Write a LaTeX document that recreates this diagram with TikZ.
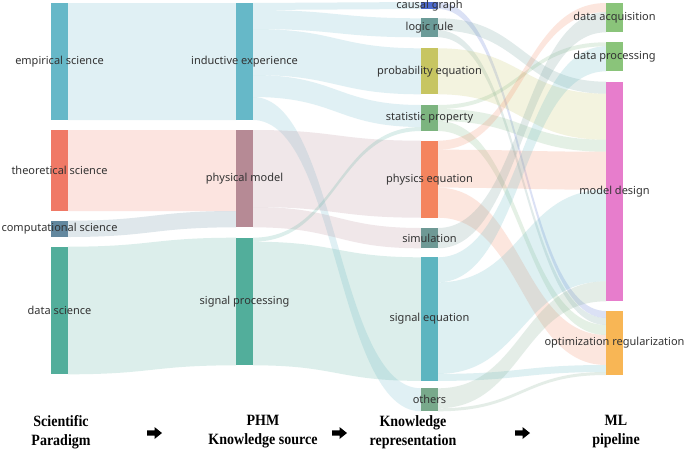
\documentclass[tikz,border=0pt]{standalone}
\usepackage{fontspec}
\setmainfont{Noto Sans}
\newfontfamily\titlefont{Liberation Serif}
\usetikzlibrary{calc}
\pgfdeclarelayer{background}
\pgfdeclarelayer{paper}
\pgfsetlayers{paper,background,main}
\definecolor{lbltext}{HTML}{333333}
\definecolor{cEmp}{HTML}{66B8C8}
\definecolor{cTheo}{HTML}{F07966}
\definecolor{cComp}{HTML}{62879E}
\definecolor{cData}{HTML}{52AE9B}
\definecolor{cPhys}{HTML}{B68A95}
\definecolor{cCausal}{HTML}{4E6BD0}
\definecolor{cLogic}{HTML}{6B9B98}
\definecolor{cProb}{HTML}{C7C561}
\definecolor{cStat}{HTML}{7CB47F}
\definecolor{cPhyEq}{HTML}{F4845E}
\definecolor{cSim}{HTML}{6E9995}
\definecolor{cSigEq}{HTML}{5DB5C0}
\definecolor{cOther}{HTML}{78A98B}
\definecolor{cAcq}{HTML}{8AC47A}
\definecolor{cModel}{HTML}{E77DCC}
\definecolor{cOpt}{HTML}{F8B655}
\tikzset{
  bar/.style={rectangle, inner sep=0pt, outer sep=0pt, minimum width=17pt, draw=none},
  lbl/.style={text=lbltext, font=\fontsize{11}{12}\selectfont, inner sep=0pt},
  ttl/.style={font=\titlefont\bfseries\fontsize{14}{19}\selectfont, align=center, inner sep=0pt},
  bandfill/.style={fill=#1, fill opacity=0.2, draw=none},
}
\newcommand\snode[6]{%
  \node[bar, fill=#5, minimum height=#4pt, anchor=north west,
        label={[lbl]center:#6}] (#1) at (#2,#3) {};}
\newcommand\band[6]{%
  \coordinate (s1) at ($(#1.north east)+(0,#2)$);
  \coordinate (s2) at ($(#1.north east)+(0,#2+#5)$);
  \coordinate (d1) at ($(#3.north west)+(0,#4)$);
  \coordinate (d2) at ($(#3.north west)+(0,#4+#5)$);
  \coordinate (mm) at ($(s1)!0.5!(d1)$);
  \fill[bandfill=#6] (s1) .. controls (mm|-s1) and (mm|-d1) .. (d1) -- (d2)
     .. controls (mm|-d2) and (mm|-s2) .. (s2) -- cycle;}
\newcommand\fatarrow[2]{%
  \fill[black] (#1,#2-2.6) -- (#1+7.5,#2-2.6) -- (#1+7.5,#2-6) -- (#1+15,#2)
    -- (#1+7.5,#2+6) -- (#1+7.5,#2+2.6) -- (#1,#2+2.6) -- cycle;}
\newcommand\tall[1]{\scalebox{1}[1.12]{#1}}
\begin{document}
\begin{tikzpicture}[x=1pt,y=-1pt]
\useasboundingbox (0,0) rectangle (685,453);
\begin{pgfonlayer}{paper}
\fill[white] (0,0) rectangle (685,453);
\end{pgfonlayer}
% column 1
\snode{emp}{51}{3}{117}{cEmp}{empirical science}
\snode{theo}{51}{130}{81}{cTheo}{theoretical science}
\snode{comp}{51}{220.7}{16}{cComp}{computational science}
\snode{data}{51}{246.7}{127.6}{cData}{data science}
% column 2
\snode{ind}{236}{3}{117}{cEmp}{inductive experience}
\snode{phys}{236}{130}{97.3}{cPhys}{physical model}
\snode{sig}{236}{237.7}{127.6}{cData}{signal processing}
% column 3
\snode{causal}{421}{2}{7}{cCausal}{causal graph}
\snode{logic}{421}{18.3}{19}{cLogic}{logic rule}
\snode{prob}{421}{48.3}{46}{cProb}{probability equation}
\snode{stat}{421}{105}{26}{cStat}{statistic property}
\snode{phyeq}{421}{140.7}{77}{cPhyEq}{physics equation}
\snode{sim}{421}{228}{20.3}{cSim}{simulation}
\snode{sigeq}{421}{257.3}{123.6}{cSigEq}{signal equation}
\snode{other}{421}{388.3}{23}{cOther}{others}
% column 4
\snode{acq}{606}{3}{29.3}{cAcq}{data acquisition}
\snode{proc}{606}{42.3}{29}{cAcq}{data processing}
\snode{model}{606}{81.7}{219.6}{cModel}{model design}
\snode{opt}{606}{311}{64}{cOpt}{optimization regularization}
\begin{pgfonlayer}{background}
% col1 -> col2
\band{emp}{0}{ind}{0}{117}{cEmp}
\band{theo}{0}{phys}{0}{81}{cTheo}
\band{comp}{0}{phys}{81}{16.3}{cComp}
\band{data}{0}{sig}{0}{127.6}{cData}
% col2 -> col3
\band{ind}{0}{causal}{0}{7}{cEmp}
\band{ind}{7}{logic}{0}{19}{cEmp}
\band{ind}{26}{prob}{0}{46}{cEmp}
\band{ind}{72}{stat}{0}{22}{cEmp}
\band{ind}{94}{other}{0}{23}{cEmp}
\band{phys}{0}{phyeq}{0}{77}{cPhys}
\band{phys}{77}{sim}{0}{20.3}{cPhys}
\band{sig}{0}{stat}{22}{4}{cData}
\band{sig}{4}{sigeq}{0}{123.6}{cData}
% col3 -> col4
\band{causal}{0}{opt}{0}{7}{cCausal}
\band{logic}{0}{model}{0}{12}{cLogic}
\band{logic}{12}{opt}{7}{7}{cLogic}
\band{prob}{0}{model}{12}{46}{cProb}
\band{stat}{0}{proc}{0}{4}{cStat}
\band{stat}{4}{model}{58}{12}{cStat}
\band{stat}{16}{opt}{14}{10}{cStat}
\band{phyeq}{0}{acq}{0}{9}{cPhyEq}
\band{phyeq}{9}{model}{70}{38}{cPhyEq}
\band{phyeq}{47}{opt}{24}{30}{cPhyEq}
\band{sim}{0}{acq}{9}{20.3}{cSim}
\band{sigeq}{0}{proc}{4}{25}{cSigEq}
\band{sigeq}{25}{model}{108}{91.6}{cSigEq}
\band{sigeq}{116.6}{opt}{54}{7}{cSigEq}
\band{other}{0}{model}{199.6}{20}{cOther}
\band{other}{20}{opt}{61}{3}{cOther}
\end{pgfonlayer}
% bottom titles
\node[ttl] (t1) at (61,432) {\tall{Scientific}\\\tall{Paradigm}};
\node[ttl] (t2) at (263,432) {\tall{PHM}\\\tall{Knowledge source}};
\node[ttl] (t3) at (413,432) {\tall{Knowledge}\\\tall{representation}};
\node[ttl] (t4) at (616,432) {\tall{ML}\\\tall{pipeline}};
\fatarrow{147}{433}
\fatarrow{332}{433}
\fatarrow{515}{433}
\end{tikzpicture}
\end{document}
